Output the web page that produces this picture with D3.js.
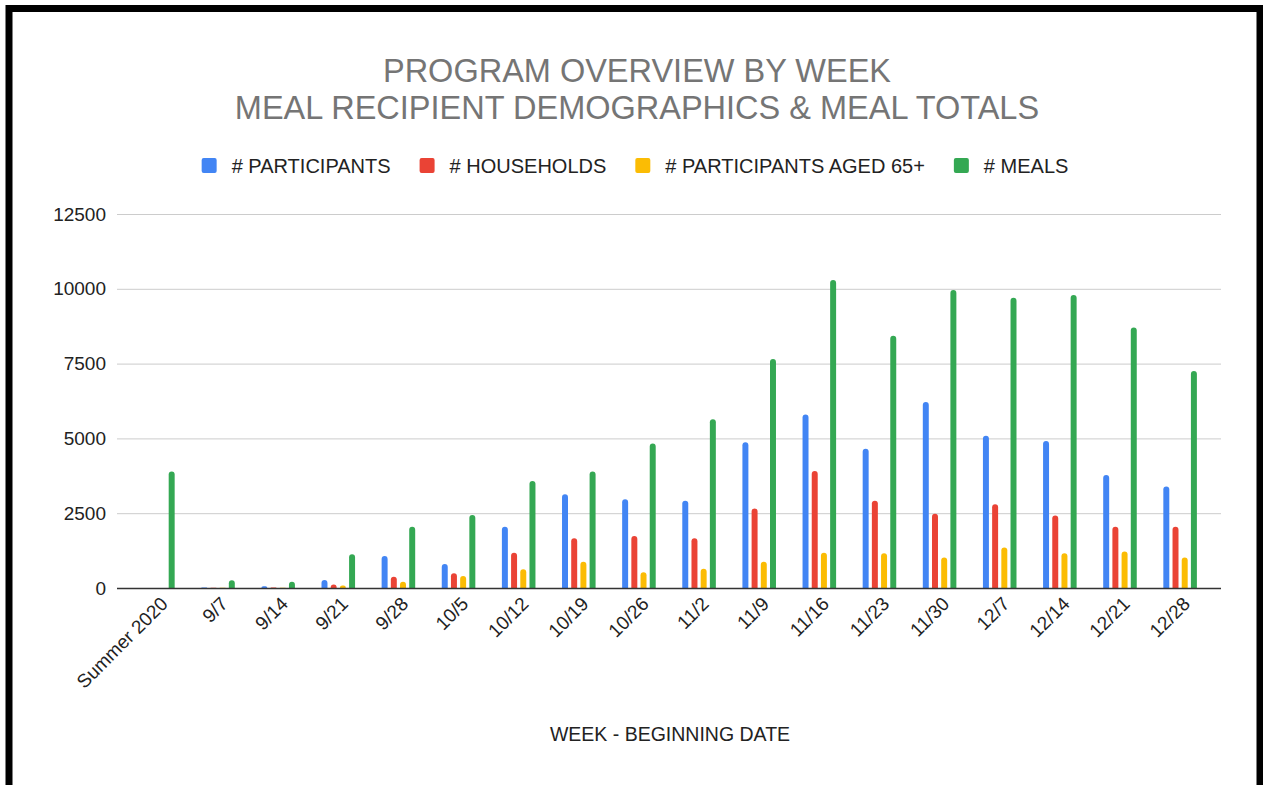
<!DOCTYPE html>
<html>
<head>
<meta charset="utf-8">
<script src="https://cdn.jsdelivr.net/npm/d3@7"></script>
<style>
    body { margin: 0; background: #fff; }
    svg { display: block; font-family: Arial, "Liberation Sans", sans-serif; }
</style>
</head>
<body>
<svg width="1263" height="785"></svg>
<script>
const weeks = ['Summer 2020', '9/7', '9/14', '9/21', '9/28', '10/5', '10/12', '10/19', '10/26',
    '11/2', '11/9', '11/16', '11/23', '11/30', '12/7', '12/14', '12/21', '12/28'];

const participants = [0, 20, 60, 270, 1070, 800, 2050, 3130, 2970, 2920, 4870, 5800, 4650, 6220, 5090, 4910, 3780, 3390];
const households   = [0, 10, 20, 120, 380, 490, 1180, 1660, 1740, 1660, 2660, 3910, 2920, 2480, 2800, 2420, 2050, 2050];
const aged65       = [0, 5, 10, 80, 210, 400, 630, 880, 530, 640, 880, 1180, 1160, 1020, 1350, 1160, 1220, 1020];
const meals        = [3890, 260, 210, 1130, 2050, 2440, 3580, 3890, 4830, 5640, 7650, 10290, 8430, 9960, 9700, 9790, 8710, 7250];

const seriesNames = ['# PARTICIPANTS', '# HOUSEHOLDS', '# PARTICIPANTS AGED 65+', '# MEALS'];
const seriesColors = ['#4285f4', '#ea4335', '#fbbc04', '#34a853'];
const yTicks = [0, 2500, 5000, 7500, 10000, 12500];

const series = [participants, households, aged65, meals];
const rows = weeks.map((w, i) => ({ week: w, values: series.map(s => s[i]) }));

const svg = d3.select('svg');

// frame
svg.append('path')
    .attr('d', 'M9,785V8.5H1260V785')
    .attr('fill', 'none')
    .attr('stroke', '#000')
    .attr('stroke-width', 7);

const plotLeft = 117, plotRight = 1221, plotTop = 214, plotBottom = 588;

const x0 = d3.scaleBand()
    .domain(weeks)
    .range([plotLeft, plotRight])
    .paddingInner(0)
    .paddingOuter(0.18);

const x1 = d3.scaleBand()
    .domain(seriesNames)
    .range([x0.bandwidth() / 2 - 20, x0.bandwidth() / 2 + 20])
    .padding(0.35);

const y = d3.scaleLinear()
    .domain([0, 12500])
    .range([plotBottom, plotTop]);

// title
const title = svg.append('text')
    .attr('text-anchor', 'middle')
    .attr('fill', '#757575')
    .style('font-size', '32.5px');
title.append('tspan').attr('x', 637).attr('y', 82).text('PROGRAM OVERVIEW BY WEEK');
title.append('tspan').attr('x', 637).attr('y', 119).text('MEAL RECIPIENT DEMOGRAPHICS & MEAL TOTALS');

// legend
const legend = svg.append('g').attr('class', 'legend');
const items = legend.selectAll('g')
    .data(seriesNames)
    .join('g');
items.append('rect')
    .attr('width', 15)
    .attr('height', 15)
    .attr('rx', 2)
    .attr('y', 158)
    .attr('fill', (d, i) => seriesColors[i]);
items.append('text')
    .attr('x', 30)
    .attr('y', 173)
    .attr('fill', '#222')
    .style('font-size', '20px')
    .text(d => d);
let lx = 0;
const offsets = [];
items.each(function () {
    offsets.push(lx);
    lx += 30 + d3.select(this).select('text').node().getComputedTextLength() + 29;
});
const legendStart = 635 - (lx - 29) / 2;
items.attr('transform', (d, i) => `translate(${legendStart + offsets[i]},0)`);

// y axis with grid
const yAxis = svg.append('g')
    .attr('transform', `translate(${plotLeft},0)`)
    .call(d3.axisLeft(y).tickValues(yTicks).tickFormat(d3.format('d'))
        .tickSize(-(plotRight - plotLeft)).tickPadding(11));
yAxis.select('.domain').remove();
yAxis.selectAll('.tick line').attr('stroke', '#cccccc');
yAxis.selectAll('.tick text')
    .attr('fill', '#222')
    .style('font-size', '19px')
    .style('font-family', 'Arial, "Liberation Sans", sans-serif');

// bars
const barPath = (bx, bw, by, bh) => {
    const r = Math.min(bw / 2, bh);
    return `M${bx},${by + bh}V${by + r}Q${bx},${by} ${bx + r},${by}H${bx + bw - r}Q${bx + bw},${by} ${bx + bw},${by + r}V${by + bh}Z`;
};

const groups = svg.append('g').attr('class', 'bars')
    .selectAll('g')
    .data(rows)
    .join('g')
    .attr('transform', d => `translate(${x0(d.week)},0)`);

groups.selectAll('path')
    .data(d => d.values.map((v, i) => ({ key: seriesNames[i], value: v, color: seriesColors[i] })))
    .join('path')
    .attr('fill', d => d.color)
    .attr('d', d => d.value > 0
        ? barPath(x1(d.key), x1.bandwidth(), y(d.value), y(0) - y(d.value))
        : '');

// baseline
svg.append('line')
    .attr('x1', plotLeft).attr('x2', plotRight)
    .attr('y1', plotBottom + 0.5).attr('y2', plotBottom + 0.5)
    .attr('stroke', '#333')
    .attr('stroke-width', 1.5);

// x axis
const xAxis = svg.append('g')
    .attr('transform', `translate(0,${plotBottom})`)
    .call(d3.axisBottom(x0).tickSize(0).tickPadding(0));
xAxis.select('.domain').remove();
xAxis.selectAll('.tick text')
    .attr('fill', '#222')
    .style('font-size', '19px')
    .style('font-family', 'Arial, "Liberation Sans", sans-serif')
    .attr('text-anchor', 'end')
    .attr('dy', 0)
    .attr('transform', 'translate(11,17) rotate(-45)');

// x axis title
svg.append('text')
    .attr('x', 670)
    .attr('y', 741)
    .attr('text-anchor', 'middle')
    .attr('fill', '#222')
    .style('font-size', '19.5px')
    .text('WEEK - BEGINNING DATE');
</script>
</body>
</html>
